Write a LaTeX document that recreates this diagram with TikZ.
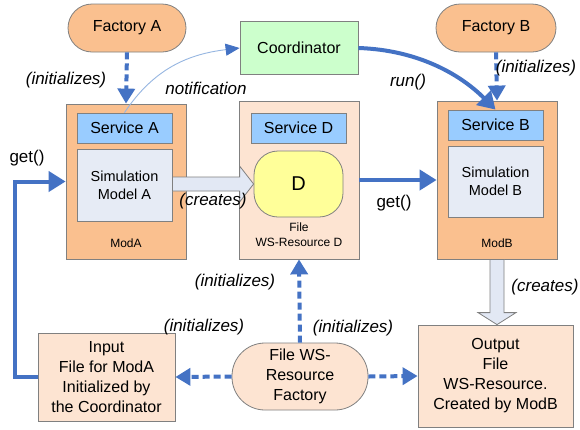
\documentclass[tikz,border=0pt]{standalone}
\usepackage{fontspec}
\setmainfont{Liberation Sans}
\usetikzlibrary{arrows.meta,calc}
\definecolor{orng}{RGB}{250,192,143}
\definecolor{peach}{RGB}{253,228,210}
\definecolor{svcblue}{RGB}{153,204,255}
\definecolor{simfill}{RGB}{230,235,245}
\definecolor{coordgreen}{RGB}{204,255,204}
\definecolor{dyellow}{RGB}{255,255,153}
\definecolor{ablue}{RGB}{68,114,196}
\definecolor{nblue}{RGB}{150,182,225}
\definecolor{bordergray}{RGB}{128,128,128}
\definecolor{blkfill}{RGB}{226,232,244}
\tikzset{
  base/.style={draw=bordergray, line width=0.8pt, inner sep=0pt, align=center},
  bigfont/.style={font=\fontsize{16}{20}\selectfont},
  midfont/.style={font=\fontsize{14.5}{18}\selectfont},
  smallfont/.style={font=\fontsize{12}{15}\selectfont},
  lblfont/.style={font=\fontsize{17}{20}\selectfont\itshape},
  stadium/.style={base, bigfont, fill=orng, rounded corners=24pt},
  orbox/.style={base, fill=orng},
  peachbox/.style={base, fill=peach},
  svcbox/.style={base, bigfont, fill=svcblue, minimum width=95pt, minimum height=30pt},
  simbox/.style={base, midfont, fill=simfill, minimum width=95pt},
  thickarr/.style={draw=ablue, line width=4pt, -{Triangle[length=17pt,width=20pt]}},
  dasharr/.style={draw=ablue, line width=4pt, dash pattern=on 7pt off 4pt, -{Triangle[length=15pt,width=17pt]}},
  notif/.style={draw=nblue, line width=0.9pt, -{Triangle[length=14pt,width=12pt,color=ablue]}},
  blk/.style={draw=bordergray, line width=0.8pt, fill=blkfill, line join=miter},
  lbl/.style={lblfont, inner sep=0pt}
}
\begin{document}
\begin{tikzpicture}[x=1pt,y=-1pt]
\useasboundingbox[fill=white] (0,0) rectangle (580,429);

% top row
\node[stadium, minimum width=118pt, minimum height=48pt] (facA) at (127,28) {Factory A};
\node[base, bigfont, fill=coordgreen, minimum width=118pt, minimum height=53pt] (coord) at (299,48) {Coordinator};
\node[stadium, minimum width=120pt, minimum height=48pt] (facB) at (496,28) {Factory B};

% ModA
\node[orbox, minimum width=120pt, minimum height=155pt] (modA) at (126,181.5) {};
\node[svcbox] (svcA) at (124.5,128) {Service A};
\node[simbox, minimum height=72pt] (simA) at (124.5,185) {Simulation\\Model A};
\node[smallfont, inner sep=0pt] (modAt) at (126,243) {ModA};

% Service D
\node[peachbox, minimum width=120pt, minimum height=158pt] (dbox) at (299,180) {};
\node[svcbox] (svcD) at (298.5,128) {Service D};
\node[base, fill=dyellow, minimum width=89pt, minimum height=66pt, rounded corners=24pt,
      font=\fontsize{20}{24}\selectfont] (D) at (298.5,184) {D};
\node[smallfont, inner sep=0pt, align=center] (dfile) at (299,235) {File\\WS-Resource D};

% ModB
\node[orbox, minimum width=120pt, minimum height=158pt] (modB) at (497,180) {};
\node[svcbox] (svcB) at (495.5,125) {Service B};
\node[simbox, minimum height=71pt] (simB) at (495.5,181.5) {Simulation\\Model B};
\node[smallfont, inner sep=0pt] (modBt) at (497,243) {ModB};

% bottom row
\node[peachbox, bigfont, minimum width=137pt, minimum height=88pt] (input) at (106.5,377)
  {Input\\File for ModA\\Initialized by\\the Coordinator};
\node[base, bigfont, fill=peach, minimum width=136pt, minimum height=67pt, rounded corners=33pt] (wsf) at (300,376.5)
  {File WS-\\Resource\\Factory};
\node[peachbox, bigfont, minimum width=155pt, minimum height=102pt] (output) at (495.5,376)
  {Output\\File\\WS-Resource.\\Created by ModB};

% connectors
\draw[dasharr] (facA.south) -- (modA.north);
\draw[dasharr] (facB.south) -- (modB.north);
\draw[notif] (svcA.north) .. controls +(30,-45) and +(-50,6) .. (coord.west);
\draw[thickarr] (coord.east) .. controls +(60,2) and +(-35,-35) .. (svcB.north);
\draw[thickarr] (input.west) -- ++(-23,0) |- (modA.west);
\draw[thickarr] (dbox.east) -- (modB.west);
\draw[dasharr] (wsf.north) -- (dbox.south);
\draw[dasharr] (wsf.west) -- (input.east);
\draw[dasharr] (wsf.east) -- (output.west);

% block arrows (creates)
\draw[blk] ($(simA.east|-D.west)+(0,-7)$) -- ($(D.west)+(-14,-7)$) -- ($(D.west)+(-14,-18)$)
  -- (D.west) -- ($(D.west)+(-14,18)$) -- ($(D.west)+(-14,7)$) -- ($(simA.east|-D.west)+(0,7)$) -- cycle;
\draw[blk] ($(modB.south)+(-7,0)$) -- ($(output.north-|modB.south)+(-7,-12)$) -- ($(output.north-|modB.south)+(-19,-12)$)
  -- (output.north-|modB.south) -- ($(output.north-|modB.south)+(19,-12)$) -- ($(output.north-|modB.south)+(7,-12)$)
  -- ($(modB.south)+(7,0)$) -- cycle;

% labels
\node[lbl] (l1) at (66,80) {(initializes)};
\node[lbl] (l2) at (206,88) {notification};
\node[lbl] (l3) at (408,82) {run()};
\node[lbl] (l4) at (536,68) {(initializes)};
\node[bigfont, inner sep=0pt, font=\fontsize{17}{20}\selectfont] (l5) at (27,158) {get()};
\node[lbl] (l6) at (213,201) {(creates)};
\node[inner sep=0pt, font=\fontsize{17}{20}\selectfont] (l7) at (394,203) {get()};
\node[lbl] (l8) at (545,287) {(creates)};
\node[lbl] (l9) at (235,282) {(initializes)};
\node[lbl] (l10) at (204,327) {(initializes)};
\node[lbl] (l11) at (353,328) {(initializes)};
\end{tikzpicture}
\end{document}
